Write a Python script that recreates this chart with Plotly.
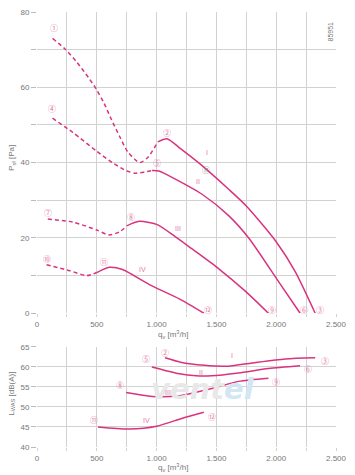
import plotly.graph_objects as go

# ---------------- data: top chart (static pressure) ----------------
I_dash_q = [130, 230, 330, 430, 500, 560, 620, 690, 760, 860, 930, 1010]
I_dash_p = [73.0, 70.3, 66.8, 62.6, 59.3, 55.8, 51.6, 47.0, 42.8, 40, 41.5, 45.5]
I_q = [1010, 1090, 1200, 1380, 1600, 1750, 2000, 2160, 2326]
I_p = [45.5, 46.3, 43.7, 39.2, 33, 28.5, 19, 11, 0]

II_dash_q = [130, 300, 500, 630, 750, 820, 900, 960]
II_dash_p = [51.8, 48, 43, 40, 37.8, 37.2, 37.5, 37.9]
II_q = [960, 1020, 1105, 1380, 1600, 1770, 2020, 2200]
II_p = [37.9, 37.8, 36.5, 31.6, 26, 20, 8.4, 0]

III_dash_q = [90, 300, 500, 600, 690, 750]
III_dash_p = [25, 24.2, 22.1, 20.8, 21.6, 23.2]
III_q = [750, 855, 1000, 1150, 1300, 1520, 1744, 1935]
III_p = [23.2, 24.4, 23.6, 20.5, 17, 11.8, 5.8, 0]

IV_dash_q = [80, 275, 415, 500]
IV_dash_p = [12.9, 11.3, 10, 10.8]
IV_q = [500, 605, 715, 940, 1190, 1395]
IV_p = [10.8, 12.2, 11.6, 7.6, 3.8, 0]

# ---------------- data: bottom chart (sound power) ----------------
LI_q = [1070, 1200, 1400, 1600, 1800, 2075, 2326]
LI_L = [62.3, 61.2, 60.4, 60.2, 61, 62, 62.3]
LII_q = [960, 1190, 1330, 1460, 1685, 1935, 2200]
LII_L = [60, 58.3, 57.8, 57.8, 58.5, 59.6, 60.3]
LIII_q = [745, 965, 1190, 1460, 1685, 1935]
LIII_L = [53.6, 52.6, 52.8, 54.6, 56.4, 57.2]
LIV_q = [510, 770, 1000, 1215, 1395]
LIV_L = [45, 44.5, 45.2, 47.2, 48.7]

# ---------------- labels ----------------
x_tickvals = [0, 250, 500, 750, 1000, 1250, 1500, 1750, 2000, 2250, 2500]
x_ticktext = ["0", "", "500", "", "1.000", "", "1.500", "", "2.000", "", "2.500"]
p_tickvals = [0, 10, 20, 30, 40, 50, 60, 70, 80]
p_ticktext = ["0", "", "20", "", "40", "", "60", "", "80"]
l_tickvals = [40, 45, 50, 55, 60, 65]
l_ticktext = ["40", "45", "50", "55", "60", "65"]

top_points = ["①", "②", "③", "④", "⑤", "⑥", "⑦", "⑧", "⑨", "⑩", "⑪", "⑫", "⑪"]
top_points_q = [141, 1088, 2367, 125, 1005, 2234, 91, 789, 1968, 83, 556, 1428, 1412]
top_points_p = [75.8, 47.9, 1, 54.5, 40, 1, 26.8, 25.8, 1, 14.5, 13.7, 1, 38.2]
top_points_col = ["p"] * 12 + ["g"]

roman = ["I", "II", "III", "IV"]
top_roman_q = [1420, 1345, 1180, 880]
top_roman_p = [42.6, 35, 22.6, 11.6]

bot_points = ["②", "⑤", "⑧", "⑪", "③", "⑥", "⑨", "⑫"]
bot_points_q = [1071, 914, 698, 473, 2409, 2267, 2002, 1462]
bot_points_L = [63.5, 62, 55.6, 46.9, 61.5, 59.6, 56.3, 47.7]
bot_roman_q = [1628, 1370, 1096, 914]
bot_roman_L = [62.8, 58.6, 53.6, 46.7]

LINE = "#d9337f"
LABEL = "#e47aa8"
GRID = "#d2d2d2"
TXT = "#777777"
FONT = "Liberation Sans, Arial, sans-serif"
CFONT = "Noto Sans CJK JP, DejaVu Sans, sans-serif"

fig = go.Figure()

def add_line(q, v, dash, yaxis):
    fig.add_trace(go.Scatter(
        x=q, y=v, mode="lines", xaxis="x" if yaxis == "y" else "x2", yaxis=yaxis,
        line=dict(color=LINE, width=1.5, dash=dash, shape="spline", smoothing=0.7),
        hoverinfo="skip", showlegend=False))

for q, p in [(I_dash_q, I_dash_p), (II_dash_q, II_dash_p),
             (III_dash_q, III_dash_p), (IV_dash_q, IV_dash_p)]:
    add_line(q, p, "4px,3px", "y")
for q, p in [(I_q, I_p), (II_q, II_p), (III_q, III_p), (IV_q, IV_p)]:
    add_line(q, p, "solid", "y")
for q, L in [(LI_q, LI_L), (LII_q, LII_L), (LIII_q, LIII_L), (LIV_q, LIV_L)]:
    add_line(q, L, "solid", "y2")

annotations = []
# watermark
annotations.append(dict(
    xref="x2", yref="y2", x=1390, y=54.4, xanchor="center", yanchor="middle",
    showarrow=False,
    text="<b><i>vent<span style='color:#d3e6f3'>el</span></i></b>",
    font=dict(family="DejaVu Sans, sans-serif", size=29, color="#e8e8e8")))

for t, q, p, c in zip(top_points, top_points_q, top_points_p, top_points_col):
    annotations.append(dict(xref="x", yref="y", x=q, y=p, text=t, showarrow=False,
                            xanchor="center", yanchor="middle",
                            font=dict(family=CFONT, size=8,
                                      color=LABEL if c == "p" else "#888888")))
for t, q, p in zip(roman, top_roman_q, top_roman_p):
    annotations.append(dict(xref="x", yref="y", x=q, y=p, text=t, showarrow=False,
                            xanchor="center", yanchor="middle",
                            font=dict(family=FONT, size=7, color=LABEL)))
for t, q, L in zip(bot_points, bot_points_q, bot_points_L):
    annotations.append(dict(xref="x2", yref="y2", x=q, y=L, text=t, showarrow=False,
                            xanchor="center", yanchor="middle",
                            font=dict(family=CFONT, size=8, color=LABEL)))
for t, q, L in zip(roman, bot_roman_q, bot_roman_L):
    annotations.append(dict(xref="x2", yref="y2", x=q, y=L, text=t, showarrow=False,
                            xanchor="center", yanchor="middle",
                            font=dict(family=FONT, size=7, color=LABEL)))

# axis titles
qt = "q<sub>v</sub> [m<sup>3</sup>/h]"
annotations += [
    dict(xref="paper", yref="paper", x=0.455, y=0.258, text=qt, showarrow=False,
         xanchor="center", yanchor="middle",
         font=dict(family=FONT, size=8, color=TXT)),
    dict(xref="paper", yref="paper", x=0.455, y=-0.046, text=qt, showarrow=False,
         xanchor="center", yanchor="middle",
         font=dict(family=FONT, size=8, color=TXT)),
    dict(xref="paper", yref="paper", x=-0.083, y=0.665, text="P<sub>sf</sub> [Pa]",
         xanchor="center", yanchor="middle",
         textangle=-90, showarrow=False, font=dict(family=FONT, size=8, color=TXT)),
    dict(xref="paper", yref="paper", x=-0.083, y=0.123, text="L<sub>WAS</sub> [dB(A)]",
         xanchor="center", yanchor="middle",
         textangle=-90, showarrow=False, font=dict(family=FONT, size=8, color=TXT)),
    dict(xref="paper", yref="paper", x=0.983, y=0.955, text="85951",
         xanchor="center", yanchor="middle",
         textangle=-90, showarrow=False, font=dict(family=FONT, size=7, color=TXT)),
]

xcommon = dict(range=[0, 2500], tickvals=x_tickvals, ticktext=x_ticktext,
               showgrid=True, gridcolor=GRID, gridwidth=1, zeroline=False,
               ticks="outside", ticklen=3, tickcolor=GRID, showline=False,
               tickfont=dict(family=FONT, size=8, color=TXT), fixedrange=True)
ycommon = dict(showgrid=True, gridcolor=GRID, gridwidth=1, zeroline=False,
               ticks="outside", ticklen=5, tickcolor="#bbbbbb", showline=False,
               tickfont=dict(family=FONT, size=8, color=TXT), fixedrange=True)

fig.update_layout(
    width=355, height=475,
    margin=dict(l=37, r=17, t=8, b=28),
    paper_bgcolor="white", plot_bgcolor="white",
    xaxis=dict(**xcommon, anchor="y"),
    yaxis=dict(**ycommon, domain=[0.3075, 1], range=[0, 80],
               tickvals=p_tickvals, ticktext=p_ticktext),
    xaxis2=dict(**xcommon, anchor="y2"),
    yaxis2=dict(**ycommon, domain=[0, 0.230], range=[40, 65],
                tickvals=l_tickvals, ticktext=l_ticktext),
    annotations=annotations,
    showlegend=False,
)

fig.write_html("out.html")
